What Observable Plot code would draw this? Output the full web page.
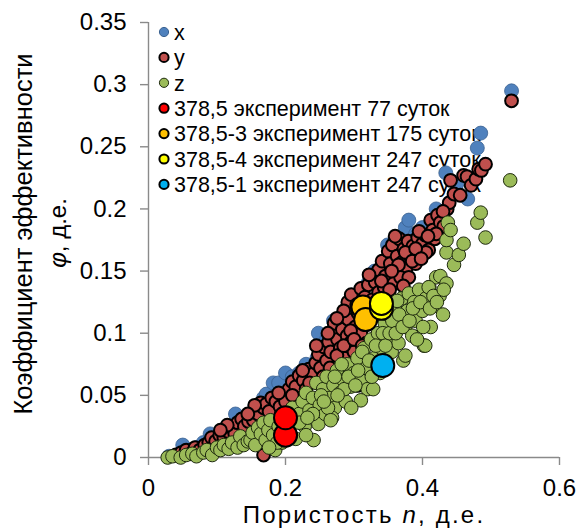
<!DOCTYPE html>
<html><head><meta charset="utf-8">
<script src="https://cdn.jsdelivr.net/npm/d3@7"></script>
<script src="https://cdn.jsdelivr.net/npm/@observablehq/plot@0.6"></script>
<style>
body{margin:0;background:#fff;}
#chart{position:relative;width:579px;height:532px;}
</style>
</head><body><div id="chart"></div>
<script>
// Series "x" (blue)
const xN =   [0.030,0.050,0.060,0.070,0.080,0.090,0.100,0.110,0.120,0.127,0.140,0.160,0.168,0.172,0.182,0.190,0.200,0.210,0.220,0.230,0.246,0.248,0.260,0.270,0.277,0.280,0.290,0.300,0.310,0.312,0.320,0.330,0.345,0.349,0.350,0.360,0.375,0.380,0.390,0.400,0.420,0.434,0.450,0.466,0.480,0.485,0.530];
const xPhi = [0.001,0.010,0.006,0.008,0.012,0.019,0.017,0.020,0.025,0.035,0.032,0.040,0.048,0.051,0.060,0.060,0.068,0.065,0.068,0.075,0.080,0.100,0.095,0.110,0.100,0.110,0.115,0.120,0.105,0.136,0.140,0.150,0.132,0.171,0.155,0.165,0.185,0.191,0.180,0.185,0.200,0.229,0.220,0.208,0.249,0.261,0.295];

// Series "y" (dark red)
const yN =   [0.040,0.048,0.055,0.062,0.068,0.075,0.082,0.088,0.092,0.098,0.104,0.110,0.116,0.122,0.126,0.130,0.136,0.140,0.146,0.150,0.153,0.156,0.160,0.164,0.168,0.172,0.176,0.168,0.180,0.186,0.192,0.198,0.205,0.210,0.215,0.220,0.226,0.230,0.234,0.240,0.244,0.248,0.251,0.256,0.260,0.263,0.266,0.270,0.271,0.276,0.280,0.283,0.286,0.290,0.292,0.296,0.300,0.302,0.306,0.310,0.305,0.291,0.296,0.304,0.310,0.316,0.321,0.327,0.331,0.336,0.336,0.341,0.346,0.350,0.353,0.356,0.360,0.363,0.366,0.370,0.373,0.376,0.379,0.382,0.386,0.390,0.393,0.396,0.400,0.404,0.409,0.412,0.415,0.418,0.422,0.426,0.431,0.436,0.439,0.441,0.446,0.455,0.460,0.465,0.471,0.478,0.482,0.486,0.492,0.530,0.348,0.344,0.358,0.368,0.322,0.360,0.285,0.275,0.262,0.318,
              0.245,0.255,0.265,0.275,0.285,0.295,0.300,0.315,0.320,0.330,0.340,0.352,0.365,0.375,0.385,0.395,0.405,0.420,0.430,0.380,0.390,0.225,0.235,0.200,0.210,0.190,0.155,0.145,0.115,0.105,0.355,0.372,0.398,0.408,0.312,0.326];
const yPhi = [0.002,0.004,0.006,0.003,0.008,0.006,0.010,0.012,0.016,0.013,0.018,0.016,0.021,0.024,0.019,0.028,0.031,0.025,0.029,0.034,0.030,0.038,0.035,0.044,0.040,0.043,0.037,0.002,0.048,0.045,0.041,0.050,0.055,0.061,0.057,0.066,0.062,0.055,0.071,0.067,0.076,0.083,0.072,0.089,0.078,0.093,0.085,0.100,0.108,0.095,0.088,0.103,0.080,0.098,0.111,0.093,0.085,0.105,0.116,0.100,0.058,0.125,0.131,0.123,0.136,0.129,0.139,0.127,0.141,0.133,0.151,0.158,0.146,0.166,0.156,0.171,0.148,0.162,0.176,0.157,0.168,0.152,0.174,0.162,0.170,0.156,0.177,0.165,0.172,0.179,0.167,0.191,0.183,0.176,0.195,0.189,0.186,0.200,0.205,0.223,0.212,0.211,0.227,0.226,0.219,0.224,0.232,0.231,0.236,0.287,0.128,0.137,0.140,0.145,0.147,0.178,0.118,0.112,0.100,0.092,
              0.090,0.065,0.072,0.082,0.090,0.102,0.095,0.108,0.118,0.122,0.142,0.135,0.155,0.165,0.158,0.182,0.165,0.180,0.198,0.145,0.168,0.070,0.060,0.045,0.050,0.052,0.042,0.035,0.026,0.022,0.150,0.138,0.160,0.178,0.090,0.112];

// Series "z" (green)
const zN =   [0.028,0.035,0.047,0.055,0.064,0.070,0.080,0.085,0.093,0.100,0.105,0.110,0.117,0.122,0.130,0.134,0.139,0.145,0.149,0.152,0.156,0.160,0.164,0.168,0.171,0.175,0.178,0.182,0.185,0.190,0.195,0.200,0.205,0.210,0.212,0.215,0.220,0.225,0.228,0.230,0.235,0.241,0.240,0.245,0.248,0.250,0.255,0.258,0.260,0.265,0.270,0.272,0.275,0.280,0.285,0.288,0.290,0.295,0.300,0.305,0.310,0.315,0.318,0.320,0.325,0.328,0.330,0.335,0.340,0.345,0.348,0.350,0.355,0.358,0.360,0.362,0.365,0.370,0.372,0.375,0.378,0.380,0.385,0.388,0.390,0.395,0.400,0.402,0.405,0.410,0.412,0.418,0.420,0.425,0.426,0.430,0.435,0.435,0.435,0.437,0.441,0.446,0.453,0.460,0.480,0.485,0.492,0.528,0.363,0.409,0.375,0.404,0.338,0.310,0.268,0.296,
              0.220,0.230,0.240,0.252,0.262,0.272,0.282,0.286,0.292,0.302,0.306,0.312,0.322,0.326,0.332,0.336,0.342,0.346,0.352,0.356,0.361,0.366,0.371,0.381,0.386,0.392,0.397,0.401,0.411,0.416,0.421,0.431,0.266,0.256,0.276,0.232,0.208,0.198,0.188,0.176];
const zPhi = [0.000,0.001,0.000,0.002,0.003,0.001,0.004,0.006,0.002,0.008,0.006,0.010,0.007,0.012,0.008,0.017,0.010,0.013,0.014,0.020,0.010,0.024,0.019,0.028,0.014,0.022,0.030,0.018,0.006,0.025,0.012,0.035,0.022,0.040,0.028,0.015,0.035,0.045,0.025,0.052,0.038,0.014,0.048,0.060,0.027,0.042,0.055,0.035,0.065,0.048,0.058,0.040,0.070,0.052,0.062,0.045,0.075,0.057,0.068,0.080,0.062,0.088,0.072,0.055,0.095,0.055,0.080,0.100,0.088,0.108,0.095,0.115,0.085,0.102,0.120,0.110,0.092,0.128,0.078,0.105,0.118,0.132,0.098,0.125,0.110,0.135,0.118,0.090,0.128,0.137,0.105,0.122,0.145,0.130,0.146,0.115,0.140,0.165,0.175,0.189,0.183,0.155,0.163,0.172,0.189,0.197,0.177,0.223,0.126,0.137,0.082,0.090,0.068,0.046,0.032,0.040,
              0.028,0.018,0.035,0.050,0.040,0.065,0.075,0.055,0.065,0.058,0.070,0.085,0.078,0.065,0.090,0.075,0.100,0.090,0.100,0.110,0.100,0.115,0.105,0.110,0.120,0.095,0.125,0.105,0.120,0.130,0.125,0.135,0.030,0.045,0.050,0.032,0.018,0.020,0.012,0.008];

// Experiments (large markers)
const expLabels = ["378,5 эксперимент 77 суток","378,5-3 эксперимент 175 суток","378,5-4 эксперимент 247 суток","378,5-1 эксперимент 247 суток"];
const expColors = ["#FF0000","#FFC000","#FFFF00","#00B0F0"];
const expGroup = [0,0,1,1,2,2,3];
const expN =   [0.200,0.200,0.313,0.317,0.340,0.340,0.342];
const expPhi = [0.018,0.032,0.121,0.111,0.120,0.124,0.074];

const seriesNames = ["x","y","z"];
const seriesColors = ["#4F81BD","#C0504D","#9BBB59"];

const xTicks = [0,0.2,0.4,0.6];
const yTicks = [0,0.05,0.1,0.15,0.2,0.25,0.3,0.35];

const toRows = (ns, ps) => ns.map((n,i)=>({n, phi: ps[i]}));
const xData = toRows(xN, xPhi), yData = toRows(yN, yPhi), zData = toRows(zN, zPhi);
const expData = expN.map((n,i)=>({n, phi: expPhi[i], c: expColors[expGroup[i]]}));

const axisColor = "#8a8a8a";
const font = "'Liberation Sans', Arial, sans-serif";

const plot = Plot.plot({
  width: 579, height: 532,
  marginLeft: 148, marginRight: 20, marginTop: 22, marginBottom: 75,
  style: {fontFamily: font, fontSize: "24px", color: "#000", background: "transparent"},
  x: {domain: [0, 0.6]},
  y: {domain: [0, 0.35]},
  color: {type: "identity"},
  marks: [
    Plot.axisX({ticks: xTicks, tickSize: 8, tickPadding: 13, stroke: axisColor, strokeWidth: 1.4, label: null, tickFormat: d => String(d)}),
    Plot.axisY({ticks: yTicks, tickSize: 8, tickPadding: 14, stroke: axisColor, strokeWidth: 1.4, label: null, tickFormat: d => String(d)}),
    Plot.ruleY([0], {stroke: axisColor, strokeWidth: 1.4}),
    Plot.ruleX([0], {stroke: axisColor, strokeWidth: 1.4}),
    Plot.dot(xData, {x: "n", y: "phi", r: 7, fill: seriesColors[0], stroke: "#3a6190", strokeWidth: 0.8}),
    Plot.dot(yData, {x: "n", y: "phi", r: 6.4, fill: seriesColors[1], stroke: "#000", strokeWidth: 2}),
    Plot.dot(zData, {x: "n", y: "phi", r: 6.8, fill: seriesColors[2], stroke: "#1e2a0e", strokeWidth: 1}),
    Plot.dot(expData, {x: "n", y: "phi", r: 11.5, fill: "c", stroke: "#000", strokeWidth: 2})
  ]
});
document.getElementById("chart").appendChild(plot);

const svg = d3.select(plot);
// Legend (behind the points)
const lg = svg.insert("g", ":first-child").attr("font-family", font).attr("font-size", 21.5).attr("text-anchor", "start");
const legendItems = [
  ...seriesNames.map((s,i)=>({label: s, fill: seriesColors[i], stroke: i===0 ? "#3a6190" : (i===1 ? "#000" : "#1e2a0e"), sw: i===1 ? 2 : 1})),
  ...expLabels.map((s,i)=>({label: s, fill: expColors[i], stroke: "#000", sw: 2}))
];
legendItems.forEach((it,i)=>{
  const cy = 32 + i*25.4;
  lg.append("circle").attr("cx",164).attr("cy",cy).attr("r",4.6).attr("fill",it.fill).attr("stroke",it.stroke).attr("stroke-width",it.sw);
  lg.append("text").attr("x",174).attr("y",cy).attr("dy","0.36em").attr("fill","#000").text(it.label);
});

// Axis titles
const xt = svg.append("text").attr("x",364).attr("y",523).attr("text-anchor","middle")
  .attr("font-family",font).attr("font-size",24).attr("letter-spacing","2.2px").attr("fill","#000");
xt.append("tspan").text("Пористость ");
xt.append("tspan").attr("font-style","italic").text("n");
xt.append("tspan").text(", д.е.");

const yt1 = svg.append("text").attr("transform","translate(23,234) rotate(-90)").attr("text-anchor","middle")
  .attr("dy","0.36em").attr("font-family",font).attr("font-size",25.5).attr("fill","#000").text("Коэффициент эффективности");
const yt2 = svg.append("text").attr("transform","translate(57,233) rotate(-90)").attr("text-anchor","middle")
  .attr("dy","0.36em").attr("font-family",font).attr("font-size",24).attr("fill","#000");
yt2.append("tspan").attr("font-style","italic").text("φ");
yt2.append("tspan").text(", д.е.");
</script>
</body></html>
